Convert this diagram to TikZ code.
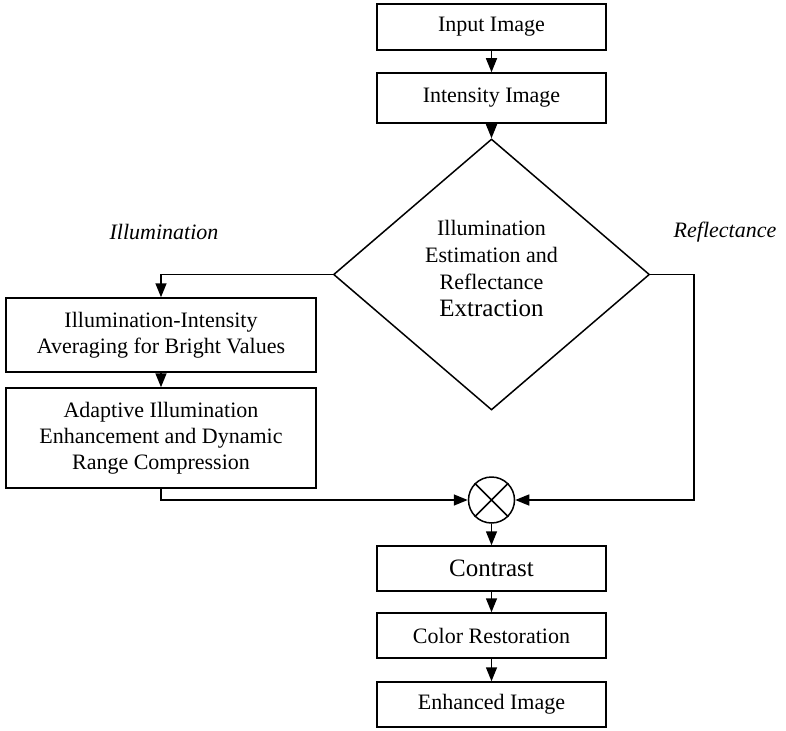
\documentclass[tikz,border=0pt]{standalone}
\usepackage{fontspec}
\setmainfont{Liberation Serif}
\usetikzlibrary{shapes.geometric,arrows.meta}
\begin{document}
\begin{tikzpicture}[x=1pt,y=-1pt, line width=1.5pt,
  box/.style={draw, line width=1.5pt, rectangle, inner sep=0pt, align=center, font=\fontsize{22}{26}\selectfont},
  arr/.style={-{Triangle[length=14pt,width=11pt]}, line width=1.5pt},
  lbl/.style={font=\fontsize{22}{26}\selectfont\itshape}]
\useasboundingbox (0,0) rectangle (786,730);
\node[box, minimum width=229pt, minimum height=46pt] (in) at (491.5,27) {Input Image};
\node[box, minimum width=229pt, minimum height=50pt] (int) at (491.5,98) {Intensity Image};
\node[draw, diamond, line width=1.5pt, minimum width=316pt, minimum height=271pt, inner sep=0pt] (dia) at (491.5,274.5) {};
\node[align=center, font=\fontsize{22}{27}\selectfont] (dt) at (491.5,268) {Illumination\\Estimation and\\Reflectance\\{\fontsize{25}{28}\selectfont Extraction}};
\node[box, minimum width=310pt, minimum height=74pt] (b1) at (161,335) {Illumination-Intensity\\Averaging for Bright Values};
\node[box, minimum width=310pt, minimum height=100pt] (b2) at (161,438) {Adaptive Illumination\\Enhancement and Dynamic\\Range Compression};
\node[draw, circle, line width=1.5pt, minimum size=46pt, inner sep=0pt] (mul) at (491.5,500) {};
\draw (mul.45) -- (mul.225) (mul.135) -- (mul.315);
\node[box, minimum width=229pt, minimum height=45pt, font=\fontsize{25}{28}\selectfont] (con) at (491.5,568.5) {Contrast};
\node[box, minimum width=229pt, minimum height=45pt] (col) at (491.5,635.5) {Color Restoration};
\node[box, minimum width=229pt, minimum height=45pt] (enh) at (491.5,704.5) {Enhanced Image};
\node[lbl] (li) at (164,232) {Illumination};
\node[lbl] (lr) at (725,232) {Reflectance};
\coordinate (rc) at (694,274.5);
\draw[arr] (in) -- (int);
\draw[arr] (int) -- (dia);
\draw[arr] (dia.west) -| (b1.north);
\draw[arr] (b1) -- (b2);
\draw[arr] (b2.south) |- (mul.west);
\draw[arr] (dia.east) -- (rc) |- (mul.east);
\draw[arr] (mul) -- (con);
\draw[arr] (con) -- (col);
\draw[arr] (col) -- (enh);
\end{tikzpicture}
\end{document}
